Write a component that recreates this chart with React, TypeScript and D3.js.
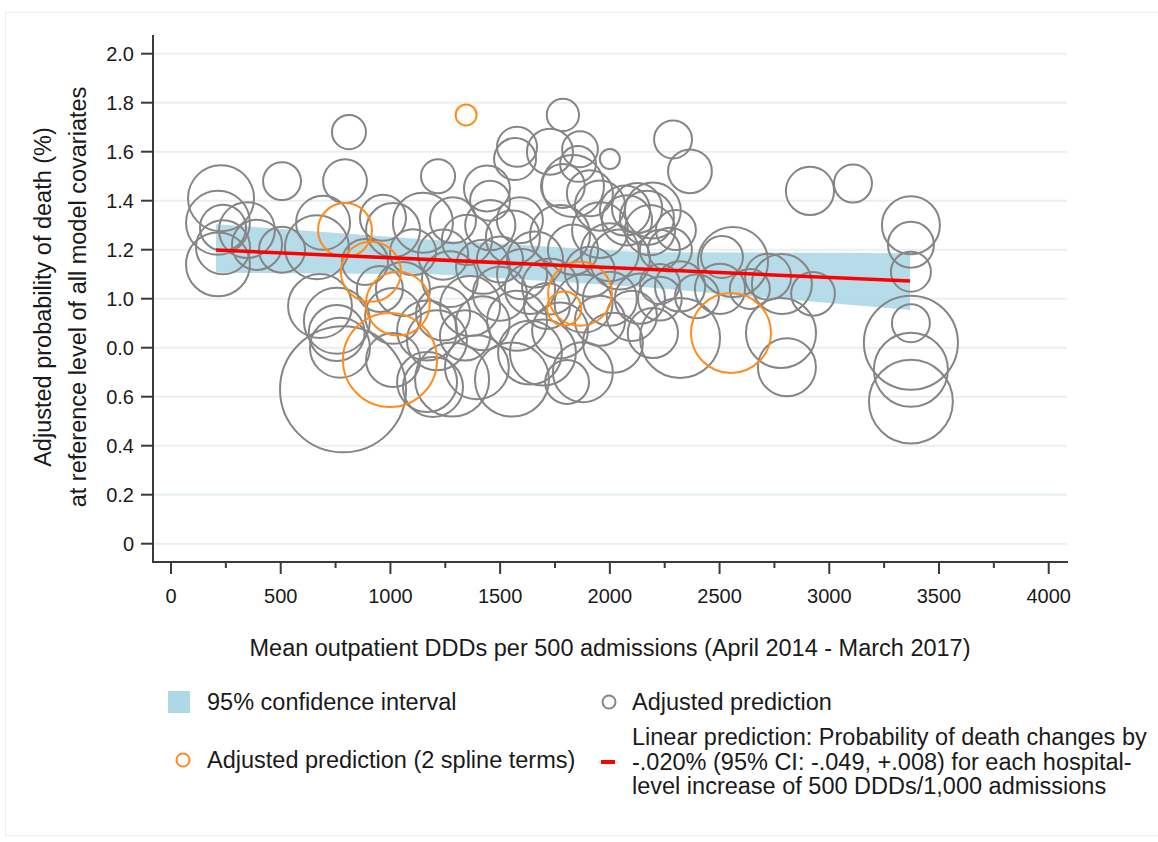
import React from "react";
import * as d3 from "d3";

// x: mean outpatient DDDs, y: adjusted probability of death (%), w: hospital weight (bubble area)
const adjustedPrediction: [number, number, number][] = [
  [228, 1.41, 109], [214, 1.31, 102], [237, 1.29, 53], [346, 1.28, 78], [214, 1.14, 102],
  [237, 1.21, 73], [392, 1.22, 63], [506, 1.2, 53], [506, 1.48, 36], [811, 1.68, 29],
  [793, 1.48, 48], [784, 0.63, 397], [665, 1.21, 102], [693, 1.31, 73], [679, 0.97, 102],
  [756, 0.91, 109], [770, 0.8, 90], [966, 1.33, 53], [1012, 1.28, 73], [1148, 1.31, 90],
  [1057, 1.04, 73], [1012, 0.75, 73], [1167, 0.66, 90], [1217, 1.5, 29], [884, 1.15, 53],
  [952, 1.04, 53], [1103, 1.19, 53], [1012, 0.93, 78], [1167, 0.87, 90], [1194, 0.64, 90],
  [755, 0.86, 78],
  [1285, 1.32, 53], [1440, 1.45, 53], [1454, 1.4, 40], [1577, 1.62, 40], [1568, 1.57, 44],
  [1727, 1.6, 53], [1786, 1.75, 26], [1864, 1.61, 32], [1855, 1.55, 32], [2000, 1.57, 10],
  [1832, 1.46, 96], [1909, 1.43, 53], [1786, 1.46, 48], [1349, 1.24, 63], [1558, 1.25, 73],
  [1422, 1.13, 73], [1271, 1.08, 78], [1363, 0.97, 90], [1499, 1.02, 73], [1577, 0.91, 90],
  [1713, 0.97, 53], [1240, 0.94, 73], [1212, 0.83, 90], [1281, 0.67, 137], [1554, 0.67, 137],
  [1877, 0.7, 90], [1394, 0.72, 102], [1695, 0.78, 109], [1636, 0.78, 102], [2014, 0.82, 90],
  [1805, 0.66, 48], [1659, 1.16, 78], [1773, 1.26, 90], [1955, 1.28, 78], [2046, 1.16, 90],
  [1909, 1.11, 63], [1636, 1.04, 63], [2000, 1.0, 73], [2137, 1.0, 63], [1773, 0.87, 78],
  [1955, 0.91, 63], [2069, 1.36, 63], [2169, 1.33, 73], [2124, 1.37, 63], [2078, 1.32, 63],
  [1499, 1.16, 53], [1340, 0.85, 63], [1590, 1.32, 53], [1955, 1.38, 63], [1727, 1.05, 78],
  [1832, 1.2, 63], [2000, 1.19, 84], [1455, 1.3, 63], [1880, 0.98, 84], [2100, 0.93, 63],
  [1600, 1.1, 63], [1420, 0.9, 73], [1240, 1.18, 63],
  [2288, 1.65, 36], [2365, 1.52, 48], [2196, 0.86, 63], [2320, 0.84, 160], [2228, 1.06, 40],
  [2274, 1.2, 48], [2183, 1.28, 63], [2228, 1.0, 48], [2320, 1.05, 63], [2196, 1.36, 78],
  [2301, 1.28, 40], [2228, 1.2, 40],
  [2561, 1.15, 123], [2511, 1.17, 44], [2502, 1.04, 63], [2638, 1.04, 40], [2784, 1.06, 90],
  [2721, 1.09, 53], [2926, 1.02, 48], [2780, 0.86, 123], [2807, 0.72, 84], [2912, 1.44, 58],
  [3108, 1.47, 36], [2397, 1.01, 48],
  [3372, 1.3, 84], [3372, 1.22, 53], [3372, 1.11, 40], [3372, 0.9, 36], [3372, 0.82, 221],
  [3372, 0.71, 137], [3372, 0.58, 176],
];

const splinePrediction: [number, number, number][] = [
  [1345, 1.75, 11], [793, 1.28, 73], [911, 1.11, 90], [1034, 0.98, 102],
  [998, 0.75, 221], [1864, 1.02, 102], [1792, 0.96, 29], [2552, 0.86, 160],
];

// 95% CI band knots: [x, lower, upper]
const ciBand: [number, number, number][] = [
  [205, 1.106, 1.304], [1200, 1.1, 1.24], [2150, 1.048, 1.19], [3368, 0.954, 1.186],
];

// linear prediction endpoints
const linearX = [205, 3368];
const linearY = [1.199, 1.072];

const yTicks = [0, 0.2, 0.4, 0.6, 0.8, 1.0, 1.2, 1.4, 1.6, 1.8, 2.0];
const yTickLabels = ["0", "0.2", "0.4", "0.6", "0.0", "1.0", "1.2", "1.4", "1.6", "1.8", "2.0"];
const xTicks = [0, 500, 1000, 1500, 2000, 2500, 3000, 3500, 4000];
const xMinorTicks = [250, 750, 1250, 1750, 2250, 2750, 3250, 3750];

const FONT = "'Liberation Sans', Arial, Helvetica, sans-serif";

export default function App() {
  const x = d3.scaleLinear().domain([0, 4000]).range([171, 1048.7]);
  const y = d3.scaleLinear().domain([0, 2]).range([543.7, 53.7]);
  const r = d3.scaleSqrt().domain([0, 400]).range([0, Math.sqrt(4000)]);

  const area = d3
    .area<[number, number, number]>()
    .x((d) => x(d[0]))
    .y0((d) => y(d[1]))
    .y1((d) => y(d[2]));

  const line = d3
    .line<number>()
    .x((d) => x(d))
    .y((_, i) => y(linearY[i]));

  const axisColor = "#3a3a3a";
  const textColor = "#1a1a1a";
  const big = 23.5;
  const tick = 20;

  return (
    <svg
      width={1158}
      height={842}
      style={{ position: "absolute", left: 0, top: 0, background: "#fff" }}
      fontFamily={FONT}
    >
      <rect x={5.5} y={12.5} width={1160} height={823} fill="none" stroke="#eeeeee" />
      {/* gridlines */}
      {yTicks.map((t) => (
        <line key={"g" + t} x1={154} x2={1067} y1={y(t)} y2={y(t)} stroke="#e6f0f2" strokeWidth={2} />
      ))}
      {/* CI band */}
      <path d={area(ciBand) || ""} fill="#add8e6" fillOpacity={0.9} />
      {/* bubbles */}
      {adjustedPrediction.map((d, i) => (
        <circle key={"a" + i} cx={x(d[0])} cy={y(d[1])} r={r(d[2])} fill="none" stroke="#858585" strokeWidth={2} />
      ))}
      {splinePrediction.map((d, i) => (
        <circle key={"s" + i} cx={x(d[0])} cy={y(d[1])} r={r(d[2])} fill="none" stroke="#ff8c1a" strokeWidth={2} />
      ))}
      {/* linear prediction */}
      <path d={line(linearX) || ""} fill="none" stroke="#ff0000" strokeWidth={3.5} />

      {/* axes */}
      <line x1={153} x2={153} y1={35} y2={563} stroke={axisColor} strokeWidth={2} />
      <line x1={152} x2={1068} y1={562} y2={562} stroke={axisColor} strokeWidth={2} />
      {yTicks.map((t, i) => (
        <g key={"yt" + t}>
          <line x1={141} x2={153} y1={y(t)} y2={y(t)} stroke={axisColor} strokeWidth={2} />
          <text x={134} y={y(t) + 7} textAnchor="end" fontSize={tick} fill={textColor}>
            {yTickLabels[i]}
          </text>
        </g>
      ))}
      {xTicks.map((t) => (
        <g key={"xt" + t}>
          <line x1={x(t)} x2={x(t)} y1={562} y2={574} stroke={axisColor} strokeWidth={2} />
          <text x={x(t)} y={603} textAnchor="middle" fontSize={tick} fill={textColor}>
            {t}
          </text>
        </g>
      ))}
      {xMinorTicks.map((t) => (
        <line key={"xm" + t} x1={x(t)} x2={x(t)} y1={562} y2={568} stroke={axisColor} strokeWidth={2} />
      ))}

      {/* axis titles */}
      <text x={610} y={656} textAnchor="middle" fontSize={big} fill={textColor}>
        Mean outpatient DDDs per 500 admissions (April 2014 - March 2017)
      </text>
      <g transform="translate(51,297) rotate(-90)">
        <text x={0} y={0} textAnchor="middle" fontSize={big} fill={textColor}>
          Adjusted probability of death (%)
        </text>
        <text x={0} y={35} textAnchor="middle" fontSize={big} fill={textColor}>
          at reference level of all model covariates
        </text>
      </g>

      {/* legend */}
      <rect x={168} y={691} width={22} height={22} fill="#add8e6" />
      <text x={207} y={710} fontSize={big} fill={textColor}>95% confidence interval</text>
      <circle cx={609} cy={702} r={6.5} fill="none" stroke="#858585" strokeWidth={2} />
      <text x={632} y={710} fontSize={big} fill={textColor}>Adjusted prediction</text>
      <circle cx={183} cy={760} r={6.5} fill="none" stroke="#ff8c1a" strokeWidth={2} />
      <text x={207} y={768} fontSize={big} fill={textColor}>Adjusted prediction (2 spline terms)</text>
      <line x1={601} x2={615} y1={762} y2={762} stroke="#ff0000" strokeWidth={4} />
      <text x={632} y={745} fontSize={big} fill={textColor}>Linear prediction: Probability of death changes by</text>
      <text x={632} y={770} fontSize={big} fill={textColor}>-.020% (95% CI: -.049, +.008) for each hospital-</text>
      <text x={632} y={794} fontSize={big} fill={textColor}>level increase of 500 DDDs/1,000 admissions</text>
    </svg>
  );
}
